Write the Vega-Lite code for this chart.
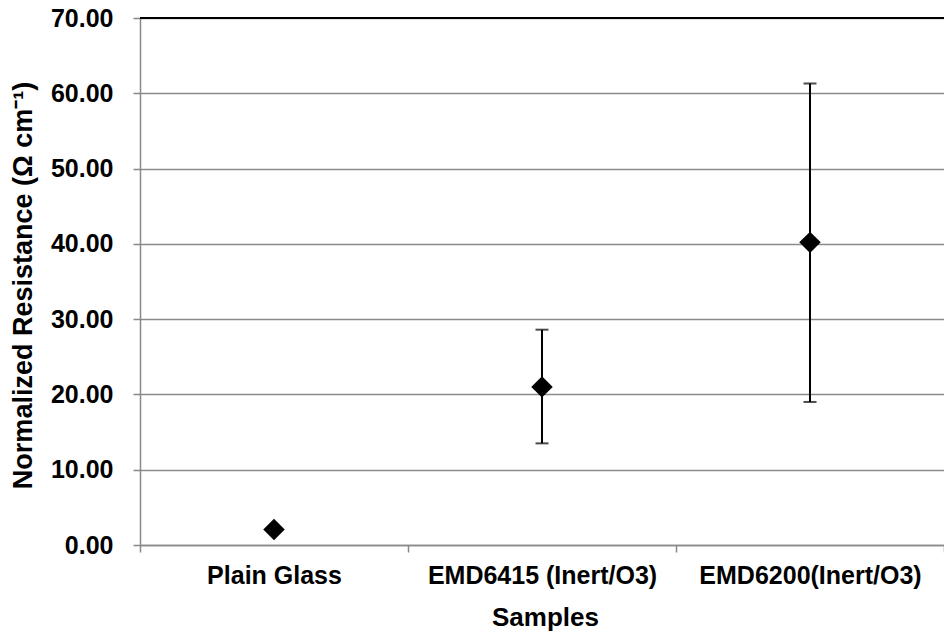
{
  "$schema": "https://vega.github.io/schema/vega-lite/v6.json",
  "width": 804,
  "height": 527,
  "autosize": {"type": "none"},
  "padding": {"left": 140, "top": 18, "right": 0, "bottom": 93},
  "background": "white",
  "config": {
    "view": {"stroke": null},
    "font": "Liberation Sans",
    "axis": {"labelColor": "black", "titleColor": "black", "labelLimit": 0}
  },
  "data": {
    "values": [
      {"sample": "Plain Glass", "value": 2.05, "lo": null, "hi": null},
      {"sample": "EMD6415 (Inert/O3)", "value": 21.0, "lo": 13.5, "hi": 28.6},
      {"sample": "EMD6200(Inert/O3)", "value": 40.2, "lo": 19.0, "hi": 61.3}
    ]
  },
  "encoding": {
    "x": {
      "field": "sample",
      "type": "nominal",
      "sort": null,
      "scale": {"type": "band", "paddingInner": 0, "paddingOuter": 0},
      "axis": {
        "title": "Samples",
        "labelAngle": 0,
        "labelFontSize": 25,
        "labelFontWeight": "bold",
        "labelPadding": 11,
        "titleFontSize": 26,
        "titleFontWeight": "bold",
        "titlePadding": 16,
        "titleX": 405,
        "domainColor": "#888888",
        "domainWidth": 1.5,
        "tickColor": "#888888",
        "tickWidth": 1.5,
        "tickSize": 7,
        "tickBand": "extent",
        "grid": false
      }
    }
  },
  "layer": [
    {
      "mark": {"type": "point", "opacity": 0},
      "encoding": {
        "y": {
          "field": "value",
          "type": "quantitative",
          "scale": {"domain": [0, 70], "nice": false, "zero": true},
          "axis": {
            "title": "Normalized Resistance (Ω cm⁻¹)",
            "values": [0, 10, 20, 30, 40, 50, 60, 70],
            "format": ".2f",
            "labelFontSize": 25,
            "labelFontWeight": "bold",
            "labelPadding": 20,
            "titleFontSize": 27,
            "titleFontWeight": "bold",
            "titlePadding": 13,
            "titleY": 267,
            "domainColor": "#888888",
            "domainWidth": 1.5,
            "tickColor": "#888888",
            "tickWidth": 1.5,
            "tickSize": 7,
            "grid": true,
            "gridColor": "#8a8a8a",
            "gridWidth": 1.5
          }
        }
      }
    },
    {
      "mark": {"type": "rule", "color": "black", "strokeWidth": 2},
      "encoding": {
        "x": null,
        "y": {"datum": 70, "type": "quantitative"}
      }
    },
    {
      "mark": {"type": "rule", "color": "black", "strokeWidth": 2},
      "encoding": {
        "y": {"field": "lo", "type": "quantitative"},
        "y2": {"field": "hi"}
      }
    },
    {
      "mark": {"type": "tick", "color": "black", "thickness": 2, "size": 13, "orient": "horizontal"},
      "encoding": {"y": {"field": "lo", "type": "quantitative"}}
    },
    {
      "mark": {"type": "tick", "color": "black", "thickness": 2, "size": 13, "orient": "horizontal"},
      "encoding": {"y": {"field": "hi", "type": "quantitative"}}
    },
    {
      "mark": {"type": "point", "shape": "diamond", "filled": true, "color": "black", "opacity": 1, "size": 460},
      "encoding": {"y": {"field": "value", "type": "quantitative"}}
    }
  ]
}
